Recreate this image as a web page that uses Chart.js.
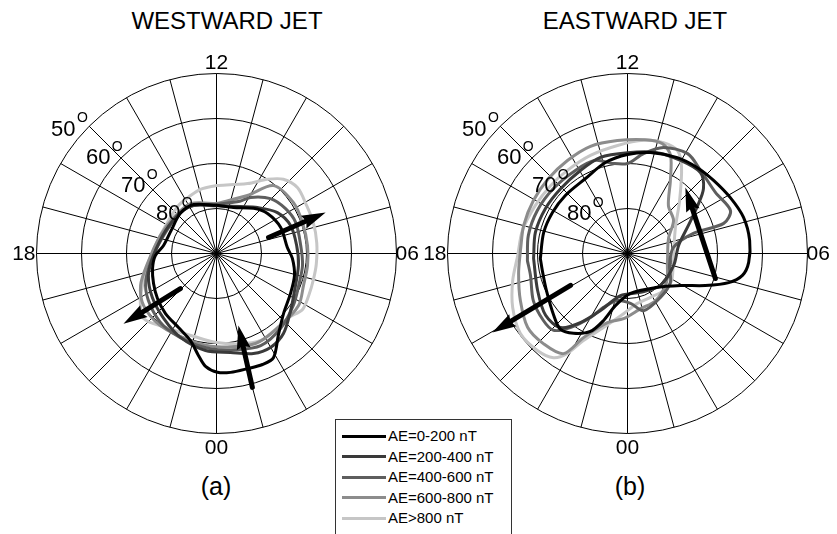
<!DOCTYPE html>
<html>
<head>
<meta charset="utf-8">
<script src="https://cdn.jsdelivr.net/npm/chart.js@4.4.0/dist/chart.umd.min.js"></script>
<style>
  body { margin: 0; background: #fff; }
  #wrap { position: relative; width: 837px; height: 534px; overflow: hidden; font-family: "Liberation Sans", Arial, sans-serif; color: #000; }
  .dial { position: absolute; top: 43px; }
  .title { position: absolute; top: 9px; width: 300px; text-align: center; font-size: 24px; line-height: 24px; }
  .tag { position: absolute; top: 474px; width: 100px; text-align: center; font-size: 25px; line-height: 25px; }
  #legend { position: absolute; left: 335px; top: 419px; width: 175px; height: 140px; border: 1px solid #333; background: #fff; }
  .row { position: absolute; left: 6px; height: 20px; font-size: 15px; line-height: 20px; white-space: nowrap; }
  .row i { display: inline-block; width: 44px; height: 3px; vertical-align: middle; margin-right: 2px; position: relative; top: -1px; }
</style>
</head>
<body>
<div id="wrap">
  <div class="title" style="left:77px">WESTWARD JET</div>
  <div class="title" style="left:485px">EASTWARD JET</div>
  <canvas id="west" class="dial" width="420" height="420" style="left:6px"></canvas>
  <canvas id="east" class="dial" width="420" height="420" style="left:417px"></canvas>
  <div class="tag" style="left:166px">(a)</div>
  <div class="tag" style="left:580px">(b)</div>
  <div id="legend"></div>
</div>
<script>
// AE bins
const aeLabels = ["AE=0-200 nT", "AE=200-400 nT", "AE=400-600 nT", "AE=600-800 nT", "AE>800 nT"];
const aeColors = ["#000000", "#3a3a3a", "#5e5e5e", "#8c8c8c", "#c6c6c6"];

// grid: latitude rings and MLT labels
const latRings = [80, 70, 60, 50];
const mltLabels = ["12", "06", "00", "18"];

// curves as [MLT hour, magnetic latitude]
const westAE0 = [[12,79.3],[10.65,79.1],[9.37,77.0],[8.54,75.6],[7.47,74.6],[6.32,74.2],[5.75,73.1],[4.95,72.0],[4.1,71.3],[3.21,70.0],[2.47,67.2],[1.91,63.6],[1.5,63.3],[1.0,63.5],[0.45,63.4],[0.03,63.6],[23.63,64.8],[23.33,67.0],[22.89,69.8],[22.19,71.5],[21.31,72.5],[20.49,73.5],[19.7,74.5],[18.88,75.4],[18.13,76.4],[17.43,78.1],[16.2,78.7],[14.8,78.0],[13.67,78.0],[12,79.3]];
const westAE200 = [[12,79.4],[10.2,78.3],[9.22,76.3],[8.26,73.7],[7.38,72.4],[6.38,72.1],[5.45,71.6],[4.31,70.8],[3.49,69.2],[2.66,66.8],[1.99,65.9],[1.35,66.3],[0.54,67.8],[23.57,68.3],[22.45,69.7],[21.39,71.4],[20.3,72.7],[19.19,74.1],[18.12,76.0],[16.38,77.6],[14.75,77.9],[13.7,78.2],[12,79.4]];
const westAE400 = [[12,79.1],[10.4,77.3],[9.91,75.4],[9.03,72.9],[8.2,71.7],[7.43,71.1],[6.36,71.2],[5.47,70.7],[4.58,70.4],[3.73,69.4],[2.7,68.1],[1.71,67.3],[0.75,68.2],[23.76,68.8],[22.69,69.5],[21.57,70.1],[20.55,71.3],[19.62,72.7],[18.52,75.2],[16.75,77.6],[14.75,77.9],[13.71,78.2],[12,79.1]];
const westAE600 = [[12,78.9],[10.13,75.4],[9.33,70.3],[8.23,69.5],[7.32,69.7],[6.33,69.7],[5.5,69.6],[4.65,69.4],[3.84,68.4],[2.77,68.6],[1.56,68.2],[0,69.3],[22.89,69.8],[21.47,69.7],[20.37,70.1],[19.52,71.7],[18.55,74.5],[16.81,76.9],[15.15,77.6],[13.83,77.5],[12,78.9]];
const westAE800 = [[12,74.9],[10.4,73.0],[9.7,70.0],[9.2,67.8],[8.6,66.8],[7.9,67.3],[7.2,67.4],[6.4,67.6],[5.6,67.7],[5.0,67.7],[4.4,67.5],[3.8,67.2],[3.2,68.6],[2.4,68.6],[1.8,68.3],[1.0,69.2],[0.0,70.2],[23.0,70.9],[21.8,70.2],[20.78,68.3],[20.11,70.1],[19.56,72.1],[18.66,74.4],[17.5,76.3],[16.08,77.1],[14.56,76.4],[13.6,75.9],[12.93,75.3],[12,74.9]];

const eastAE0 = [[18.22,70.6],[17.07,70.8],[16.09,71.0],[15.13,71.1],[13.95,70.9],[12.91,69.2],[12,68.0],[11.15,67.0],[10.17,66.0],[9.39,65.4],[8.69,64.9],[7.9,64.0],[7.15,63.0],[6.41,62.7],[5.72,63.0],[5.28,64.0],[4.93,66.6],[4.51,71.3],[3.93,76.2],[2.63,80.2],[0.29,81.1],[23.13,78.1],[22.69,74.2],[22.3,70.8],[21.73,68.6],[21.24,67.5],[20.67,68.6],[19.63,70.2],[18.75,70.7],[18.22,70.6]];
const eastAE200 = [[18.2,69.1],[17.14,69.0],[16.08,69.2],[15.06,69.3],[13.97,68.8],[13.05,67.8],[12,67.6],[10.97,66.7],[10.02,66.2],[9.2,65.8],[8.7,67.8],[8.29,71.1],[7.65,75.1],[6.6,78.5],[5.03,79.4],[3.06,79.8],[1.23,80.9],[23.37,80.5],[22.31,76.0],[21.71,71.4],[21.19,67.8],[20.47,67.2],[19.49,68.4],[18.2,69.1]];
const eastAE400 = [[18.27,67.7],[17.31,67.6],[16.3,67.8],[15.25,68.1],[14.14,68.2],[13.27,68.1],[12.63,69.7],[12,70.0],[11.39,67.5],[10.75,65.1],[9.93,64.1],[9.25,65.4],[8.31,66.2],[7.51,65.2],[7.16,67.6],[7.13,74.7],[6.5,79.7],[4.94,80.3],[3.73,78.5],[2.46,77.8],[1.05,76.8],[0.23,78.9],[23.2,79.3],[22.4,76.9],[22.0,73.6],[21.49,69.2],[21.07,66.3],[20.57,66.1],[19.77,66.6],[18.85,67.9],[18.27,67.7]];
const eastAE600 = [[17.89,66.2],[16.99,66.1],[16.04,66.0],[15.1,65.8],[14.19,65.4],[13.27,64.8],[12.34,64.8],[11.4,64.4],[10.82,64.4],[10.42,66.2],[9.97,71.2],[9.3,76.0],[8.38,77.4],[7.34,80.3],[5.15,80.9],[3.56,79.2],[2.05,77.8],[0.89,77.4],[23.77,75.5],[22.92,74.0],[22.16,68.9],[21.83,63.6],[21.13,62.6],[20.43,62.4],[19.58,64.0],[18.69,65.4],[17.89,66.2]];
const eastAE800 = [[18.07,65.6],[17.17,66.1],[16.16,66.9],[15.24,67.2],[14.39,67.2],[13.38,66.7],[12.35,65.9],[11.46,64.6],[10.8,64.1],[10.27,64.6],[9.86,67.4],[9.03,73.5],[7.89,77.9],[5.83,79.8],[3.9,78.5],[2.95,78.5],[1.84,79.0],[0.75,78.7],[23.75,76.6],[22.8,72.7],[22.21,68.3],[21.93,64.1],[21.64,61.6],[21.14,60.6],[20.45,60.3],[19.68,61.8],[18.88,63.8],[18.07,65.6]];

// jet direction arrows: [tail, tip]
const westArrows = [[[7.14,77.9],[7.37,64.1]], [[20.95,78.8],[20.47,64.1]], [[1.0,59.2],[1.13,73.3]]];
const eastArrows = [[[4.94,69.7],[9.25,70.5]], [[19.95,75.5],[20.02,55.2]]];

const PX = 4.5; // pixels per degree of colatitude
const HALF = 210;

function toXY(p) {
  const a = (p[0] - 6) * Math.PI / 12;
  const r = 90 - p[1];
  return { x: r * Math.cos(a), y: r * Math.sin(a) };
}

const polarGrid = {
  id: "polarGrid",
  beforeDatasetsDraw(chart) {
    const { ctx, scales: { x, y } } = chart;
    const cx = x.getPixelForValue(0), cy = y.getPixelForValue(0);
    const outer = Math.min(...latRings);
    ctx.save();
    ctx.strokeStyle = "#000";
    ctx.lineWidth = 1;
    latRings.forEach((lat) => {
      const r = x.getPixelForValue(90 - lat) - cx;
      ctx.beginPath();
      ctx.arc(cx, cy, r, 0, 2 * Math.PI);
      ctx.stroke();
    });
    for (let h = 0; h < 24; h++) {
      const p = toXY([h, outer]);
      ctx.beginPath();
      ctx.moveTo(cx, cy);
      ctx.lineTo(x.getPixelForValue(p.x), y.getPixelForValue(p.y));
      ctx.stroke();
    }
    ctx.restore();
  },
  afterDatasetsDraw(chart) {
    const { ctx } = chart;
    // arrows
    chart.data.datasets.forEach((ds, i) => {
      if (!ds.arrow) return;
      const pts = chart.getDatasetMeta(i).data;
      const a = pts[0], b = pts[1];
      const ang = Math.atan2(b.y - a.y, b.x - a.x);
      const len = Math.hypot(b.x - a.x, b.y - a.y);
      ctx.save();
      ctx.translate(b.x, b.y);
      ctx.rotate(ang);
      ctx.fillStyle = "#000";
      ctx.strokeStyle = "#000";
      ctx.lineWidth = 5;
      ctx.lineCap = "round";
      ctx.beginPath();
      ctx.moveTo(-len, 0);
      ctx.lineTo(-18, 0);
      ctx.stroke();
      ctx.beginPath();
      ctx.moveTo(0, 0);
      ctx.lineTo(-24, -7);
      ctx.lineTo(-21, 0);
      ctx.lineTo(-24, 7);
      ctx.closePath();
      ctx.fill();
      ctx.restore();
    });
  },
  afterDraw(chart) {
    const { ctx, scales: { x, y } } = chart;
    const cx = x.getPixelForValue(0), cy = y.getPixelForValue(0);
    const outer = Math.min(...latRings);
    const R = x.getPixelForValue(90 - outer) - cx;
    ctx.save();
    ctx.fillStyle = "#000";
    ctx.font = '21px "Liberation Sans", Arial, sans-serif';
    ctx.textAlign = "center";
    ctx.textBaseline = "alphabetic";
    ctx.fillText(mltLabels[0], cx, cy - R - 5);
    ctx.fillText(mltLabels[2], cx, cy + R + 20);
    ctx.textBaseline = "middle";
    ctx.textAlign = "left";
    ctx.fillText(mltLabels[1], cx + R - 1, cy + 1);
    ctx.textAlign = "right";
    ctx.fillText(mltLabels[3], cx - R - 1, cy + 1);
    // latitude labels
    latRings.forEach((lat) => {
      const p = toXY([15.4, lat - 3.8]);
      const px = x.getPixelForValue(p.x), py = y.getPixelForValue(p.y);
      ctx.font = '22px "Liberation Sans", Arial, sans-serif';
      ctx.textAlign = "center";
      ctx.textBaseline = "middle";
      ctx.fillText(String(lat), px, py);
      ctx.font = '14px "Liberation Sans", Arial, sans-serif';
      ctx.fillText("O", px + 19, py - 11);
    });
    ctx.restore();
  },
};

function makeDial(id, curves, arrows) {
  const datasets = curves.map((c, i) => ({
    label: aeLabels[i],
    data: c.map(toXY),
    showLine: true,
    borderColor: aeColors[i],
    borderWidth: 3,
    pointRadius: 0,
    tension: 0.3,
    borderCapStyle: "round",
    borderJoinStyle: "round",
    fill: false,
  }));
  arrows.forEach((a) => {
    datasets.push({ arrow: true, data: a.map(toXY), showLine: false, pointRadius: 0 });
  });
  return new Chart(document.getElementById(id), {
    type: "scatter",
    data: { datasets },
    options: {
      responsive: false,
      animation: false,
      events: [],
      layout: { padding: 0 },
      plugins: { legend: { display: false }, tooltip: { enabled: false } },
      scales: {
        x: { type: "linear", display: false, min: -(HALF + 0.5) / PX, max: (HALF - 0.5) / PX },
        y: { type: "linear", display: false, min: -(HALF - 0.5) / PX, max: (HALF + 0.5) / PX },
      },
    },
    plugins: [polarGrid],
  });
}

makeDial("west", [westAE0, westAE200, westAE400, westAE600, westAE800], westArrows);
makeDial("east", [eastAE0, eastAE200, eastAE400, eastAE600, eastAE800], eastArrows);

document.getElementById("legend").innerHTML = aeLabels
  .map((l, i) => `<div class="row" style="top:${6 + i * 20.5}px"><i style="background:${aeColors[i]}"></i>${l.replace(">", "&gt;")}</div>`)
  .join("");
</script>
</body>
</html>
